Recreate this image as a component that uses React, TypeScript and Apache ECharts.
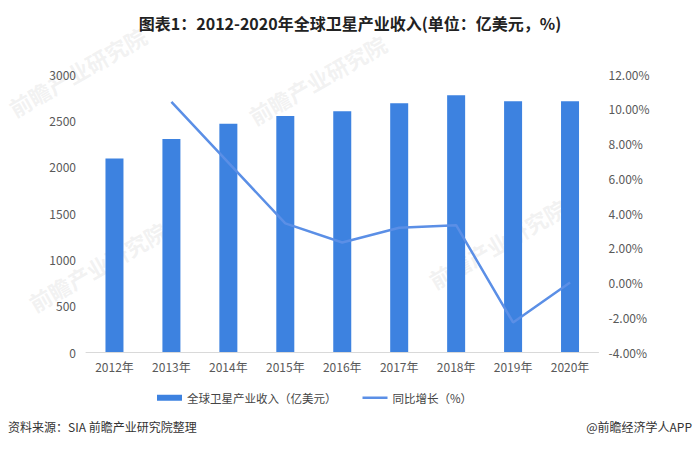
import React, { useEffect, useRef } from "react";
import * as echarts from "echarts";

const categories = ["2012年", "2013年", "2014年", "2015年", "2016年", "2017年", "2018年", "2019年", "2020年"];
const revenue = [2087, 2298, 2464, 2547, 2597, 2684, 2770, 2705, 2705];
const growth: (number | null)[] = [null, 10.4, 6.9, 3.4, 2.3, 3.15, 3.3, -2.3, 0.0];
const barName = "全球卫星产业收入（亿美元）";
const lineName = "同比增长（%）";
const titleText = "图表1：2012-2020年全球卫星产业收入(单位：亿美元，%)";
const sourceText = "资料来源：SIA 前瞻产业研究院整理";
const brandText = "@前瞻经济学人APP";
const watermark = "前瞻产业研究院";

const FONT = "'Noto Sans CJK SC', 'Noto Sans', sans-serif";

export default function App() {
  const ref = useRef<HTMLDivElement>(null);
  useEffect(() => {
    if (!ref.current) return;
    const chart = echarts.init(ref.current, undefined, { renderer: "svg" });
    const wm = (x: number, y: number) => ({
      type: "text",
      x,
      y,
      rotation: 0.52,
      z: 0,
      silent: true,
      style: {
        text: watermark,
        fill: "rgba(190,190,190,0.2)",
        font: `bold 22px ${FONT}`,
      },
    });
    chart.setOption({
      animation: false,
      textStyle: { fontFamily: FONT },
      title: {
        text: titleText,
        left: "center",
        top: 10,
        textStyle: { fontSize: 16, fontWeight: "bold", color: "#222", fontFamily: FONT },
      },
      grid: { left: 86, right: 101.5, top: 74, bottom: 97, containLabel: false },
      legend: {
        left: 152,
        top: 387,
        itemGap: 26,
        itemWidth: 25,
        itemHeight: 6,
        textStyle: { fontSize: 11.5, color: "#444", fontFamily: FONT },
        data: [
          { name: barName, icon: "rect" },
          { name: lineName, icon: "path://M0,0H100V10H0Z" },
        ],
      },
      xAxis: {
        type: "category",
        data: categories,
        axisLine: { lineStyle: { color: "#d9d9d9", width: 1 } },
        axisTick: { show: false },
        axisLabel: { color: "#595959", fontSize: 12, margin: 8, fontFamily: FONT },
      },
      yAxis: [
        {
          type: "value",
          min: 0,
          max: 3000,
          interval: 500,
          axisLine: { show: false },
          axisTick: { show: false },
          splitLine: { show: false },
          axisLabel: {
            color: "#595959",
            fontSize: 12,
            margin: 10,
            fontFamily: FONT,
            formatter: (v: number) => String(v),
          },
        },
        {
          type: "value",
          min: -4,
          max: 12,
          interval: 2,
          axisLine: { show: false },
          axisTick: { show: false },
          splitLine: { show: false },
          axisLabel: {
            color: "#595959",
            fontSize: 12,
            margin: 10,
            fontFamily: FONT,
            formatter: (v: number) => v.toFixed(2) + "%",
          },
        },
      ],
      series: [
        {
          name: barName,
          type: "bar",
          data: revenue,
          barWidth: 18,
          itemStyle: { color: "#3d82e0" },
          z: 2,
        },
        {
          name: lineName,
          type: "line",
          yAxisIndex: 1,
          data: growth,
          symbol: "none",
          lineStyle: { color: "#5b8fe6", width: 2.5 },
          itemStyle: { color: "#5b8fe6" },
          z: 3,
        },
      ],
      graphic: [
        wm(5, 100),
        wm(25, 295),
        wm(245, 108),
        wm(425, 272),
        {
          type: "text",
          left: 8,
          top: 420,
          style: { text: sourceText, fill: "#333", font: `12px ${FONT}` },
        },
        {
          type: "text",
          right: 8,
          top: 420,
          style: { text: brandText, fill: "#333", font: `12px ${FONT}` },
        },
      ],
    });
    return () => chart.dispose();
  }, []);
  return <div ref={ref} style={{ width: 700, height: 449, position: "absolute", left: 0, top: 0 }} />;
}
